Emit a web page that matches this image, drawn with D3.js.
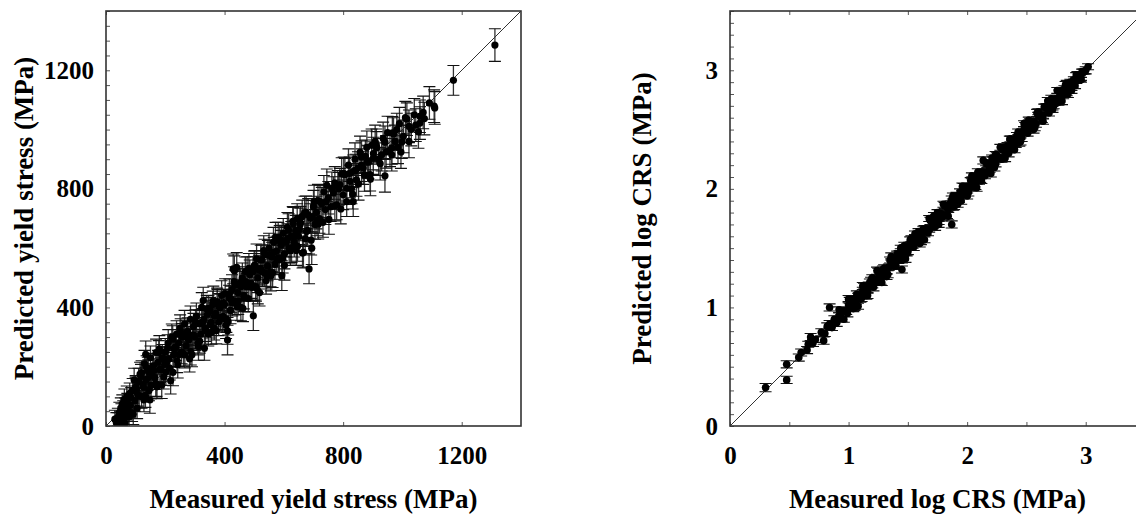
<!DOCTYPE html>
<html>
<head>
<meta charset="utf-8">
<script src="https://cdn.jsdelivr.net/npm/d3@7"></script>
<style>
body { margin: 0; background: #fff; }
</style>
</head>
<body>
<div id="chart"></div>
<script>
const yieldMeasured = [
  30,35,40,42,45,48,50,52,55,55,58,60,62,65,65,68,70,72,75,78,80,82,85,88,90,92,95,98,100,103,105,107,110,
  115,120,125,130,134,137,140,141,145,150,155,160,165,169,170,175,180,185,190,195,200,205,210,215,222,225,228,232,238,240,245,250,255,260,265,270,275,280,285,290,295,300,
  305,310,315,320,323,328,330,335,340,345,351,355,360,365,370,375,380,385,390,395,400,405,410,410,415,420,425,429,433,435,441,445,450,455,460,465,470,475,480,485,490,497,500,505,508,512,518,522,528,535,540,545,550,555,560,565,570,575,581,585,590,593,598,
  602,608,612,618,625,630,635,640,645,650,655,663,666,670,675,680,685,690,694,700,705,710,715,720,728,735,740,745,750,758,767,772,778,785,789,795,800,806,812,818,823,828,834,834,840,845,850,857,862,868,875,880,885,891,896,
  902,902,908,913,920,930,935,941,941,950,958,964,964,966,975,981,990,995,998,1003,1010,1022,1022,1030,1040,1054,1059,1059,1070,1074,1091,1107,1109,1172,1312,
  120,128,135,148,158,168,178,188,198,208,218,230,242,252,262,272,282,292,302,312,322,332,342,352,362,372,382,392,402,412,
  422,432,442,452,462,472,482,492,502,512,522,532,542,552,562,572,582,592,602,612,622,632,642,652,662,672,682,692,702,712,
  722,732,742,752,762,772,782,792,802,812,822,832,842,852,862,872,882,892,912,925,945,970,985,1015,1045,
  100,112,118,126,133,143,152,162,172,182,192,202,212,226,236,246,256,266,276,286,
  296,306,316,326,336,346,356,366,376,386,396,406,416,426,436,446,456,466,476,486,
  496,506,516,526,536,546,556,566,576,586,596,606,616,626,636,646,656,676,696,716
];
const yieldPredicted = [
  23,10,30,5,45,20,60,35,0,75,50,25,90,65,10,40,100,80,55,30,110,70,95,45,120,40,155,85,130,124,60,107,150,
  175,100,140,210,242,197,160,192,120,230,170,200,163,248,140,215,260,190,230,165,250,215,280,195,299,293,240,265,310,220,280,330,250,300,345,270,320,290,360,240,335,300,
  370,280,345,310,400,423,360,330,395,310,389,350,410,330,380,420,350,400,440,370,410,340,321,290,430,390,460,530,524,420,535,450,480,400,500,440,520,470,430,510,480,372,540,470,564,500,450,560,520,580,490,540,600,520,570,620,545,590,637,560,610,507,650,
  580,620,670,600,640,690,620,660,700,640,680,583,586,720,721,660,530,700,600,740,680,720,760,700,750,790,730,812,770,740,786,820,746,800,814,850,780,848,757,880,825,800,859,757,900,830,870,923,880,870,910,940,890,848,947,
  904,919,960,938,900,915,970,957,844,990,930,938,915,989,960,1000,1020,924,958,977,1040,1011,960,1000,1050,992,1045,1022,1058,1037,1090,1079,1073,1166,1285,
  180,88,155,88,203,143,248,138,208,263,153,260,207,317,242,312,227,307,352,267,347,262,377,342,422,322,402,362,447,352,
  427,487,402,482,397,487,532,467,542,457,532,592,507,577,517,637,567,627,542,632,592,682,592,662,707,632,712,627,757,692,
  757,687,757,697,802,742,807,732,852,802,852,782,862,817,907,847,892,832,947,885,925,985,940,1035,1015,
  130,102,168,131,103,183,137,187,132,192,227,182,227,181,266,241,301,241,296,251,
  306,346,286,351,321,396,316,371,411,366,416,361,446,416,476,421,471,431,521,481,
  521,466,526,561,516,576,506,586,561,626,566,621,661,601,641,606,686,656,706,681
];
const yieldError = [
  30,35,30,40,35,30,35,40,35,30,35,40,35,30,40,35,35,30,40,35,35,40,35,30,40,35,40,35,40,35,35,40,45,
  40,40,40,45,45,40,40,40,35,40,40,45,40,45,40,40,45,40,45,40,45,40,45,40,45,45,40,45,45,40,45,45,40,45,45,40,45,45,45,40,45,45,
  45,40,45,40,50,45,45,45,45,40,45,45,45,40,45,45,45,45,50,45,45,45,45,50,45,45,50,50,50,45,50,45,50,45,50,45,50,45,45,50,50,50,50,45,50,50,45,50,50,50,45,50,50,50,50,50,50,50,50,50,50,50,50,
  50,50,50,50,50,50,50,50,50,50,55,50,50,55,55,50,50,50,55,55,50,55,55,50,55,55,50,55,55,50,55,55,50,55,55,55,50,55,50,55,55,50,55,50,55,55,55,55,55,55,55,55,55,55,55,
  55,55,55,55,55,55,55,55,55,55,55,55,55,55,55,55,55,55,55,55,55,55,55,55,55,55,55,55,55,55,55,55,55,50,55,
  40,40,40,45,40,45,40,45,40,45,45,40,45,45,40,45,45,45,40,45,45,40,45,45,50,45,45,45,50,45,
  45,50,45,50,45,50,50,45,50,45,50,50,45,50,50,50,50,50,50,50,50,55,50,50,55,50,55,50,55,50,
  55,50,55,50,55,50,55,50,55,55,55,50,55,55,55,55,55,55,55,55,55,55,55,55,55,
  35,40,40,35,40,40,45,40,40,45,40,45,40,45,45,40,45,45,40,45,
  45,45,40,45,45,45,40,45,50,45,45,45,50,45,50,45,50,45,50,50,
  50,45,50,50,45,50,50,50,50,50,50,50,55,50,50,50,55,50,55,50
];
const yieldLabels = [0, 400, 800, 1200];

const crsMeasured = [
  0.30,0.478,0.478,0.58,0.60,0.65,0.66,0.68,0.70,0.72,
  0.77,0.79,0.80,0.82,0.84,0.84,0.86,0.88,0.90,0.92,
  0.94,0.96,0.98,1.00,1.45,1.87,2.136,1.02,1.04,1.06,
  1.08,1.10,1.12,1.14,1.16,1.18,1.20,1.22,1.24,1.26,
  1.28,1.30,1.32,1.34,1.36,1.38,1.40,1.42,1.44,1.46,
  1.48,1.50,1.52,1.54,1.56,1.58,1.60,1.62,1.64,1.66,
  1.68,1.70,1.72,1.74,1.76,1.78,1.80,1.82,1.84,1.86,
  1.88,1.90,1.92,1.94,1.96,1.98,2.00,2.02,2.04,2.06,
  2.08,2.10,2.12,2.14,2.16,2.18,2.20,2.22,2.24,2.26,
  2.28,2.30,2.32,2.34,2.36,2.38,2.40,2.42,2.44,2.46,
  2.48,2.50,2.52,2.54,2.56,2.58,2.60,2.62,2.64,2.66,
  2.68,2.70,2.72,2.74,2.76,2.78,2.80,2.82,2.84,2.86,
  2.88,2.90,2.92,2.94,2.96,2.98,3.00,3.02,
  0.99,1.01,1.03,1.05,1.07,1.09,1.11,1.13,1.15,1.17,
  1.19,1.21,1.23,1.25,1.27,1.29,1.31,1.33,1.35,1.37,
  1.39,1.41,1.43,1.45,1.47,1.49,1.51,1.53,1.55,1.57,
  1.59,1.61,1.63,1.65,1.67,1.69,1.71,1.73,1.75,1.77,
  1.79,1.81,1.83,1.85,1.87,1.89,1.91,1.93,1.95,1.97,
  1.99,2.01,2.03,2.05,2.07,2.09,2.11,2.13,2.15,2.17,
  2.19,2.21,2.23,2.25,2.27,2.29,2.31,2.33,2.35,2.37,
  2.39,2.41,2.43,2.45,2.47,2.49,2.51,2.53,2.55,2.57,
  2.59,2.61,2.63,2.65,2.67,2.69,2.71,2.73,2.75,2.77,
  2.79,2.81,2.83,2.85,2.87,2.89,2.91,2.93,2.95,2.97,
  2.99,
  0.92,0.96,1.00,1.04,1.08,1.12,1.16,1.20,1.24,1.28,
  1.32,1.36,1.40,1.44,1.48,1.52,1.56,1.60,1.64,1.68,
  1.72,1.76,1.80,1.84,1.88,1.92,1.96,2.00,2.04,2.08,
  2.12,2.16,2.20,2.24,2.28,2.32,2.36,2.40,2.44,2.48,
  2.52,2.56,2.60,2.64,2.68,2.72,2.76,2.80,2.84,2.88,
  2.92,2.96
];
const crsPredicted = [
  0.324,0.52,0.389,0.577,0.62,0.64,0.69,0.75,0.70,0.73,
  0.79,0.72,0.78,0.84,1.00,0.86,0.83,0.90,0.87,0.93,
  0.91,0.97,0.97,1.02,1.32,1.70,2.24,1.00,1.07,1.05,
  1.09,1.07,1.14,1.14,1.14,1.21,1.19,1.23,1.21,1.28,
  1.27,1.33,1.30,1.34,1.38,1.35,1.41,1.40,1.47,1.45,
  1.50,1.47,1.53,1.53,1.59,1.56,1.61,1.59,1.66,1.66,
  1.66,1.73,1.71,1.76,1.73,1.79,1.78,1.85,1.83,1.88,
  1.85,1.91,1.90,1.97,1.96,1.95,2.02,2.01,2.07,2.04,
  2.09,2.07,2.14,2.14,2.14,2.21,2.19,2.24,2.21,2.27,
  2.26,2.33,2.31,2.36,2.33,2.39,2.38,2.45,2.44,2.43,
  2.50,2.49,2.55,2.52,2.57,2.55,2.62,2.62,2.62,2.69,
  2.67,2.72,2.69,2.75,2.74,2.81,2.79,2.84,2.81,2.87,
  2.86,2.92,2.91,2.95,2.94,2.99,3.00,3.03,
  0.95,1.06,1.02,1.00,1.11,1.10,1.08,1.18,1.10,1.19,
  1.23,1.17,1.23,1.30,1.22,1.32,1.29,1.28,1.40,1.36,
  1.35,1.45,1.45,1.40,1.52,1.46,1.52,1.58,1.51,1.55,
  1.64,1.56,1.66,1.64,1.63,1.73,1.71,1.68,1.80,1.79,
  1.76,1.86,1.78,1.86,1.91,1.85,1.94,1.91,1.90,2.02,
  1.99,1.97,2.07,2.07,2.02,2.14,2.08,2.14,2.11,2.21,
  2.17,2.26,2.18,2.28,2.26,2.25,2.35,2.33,2.30,2.42,
  2.41,2.38,2.48,2.40,2.48,2.53,2.47,2.56,2.53,2.52,
  2.64,2.61,2.59,2.69,2.69,2.64,2.76,2.70,2.76,2.73,
  2.83,2.79,2.88,2.80,2.90,2.88,2.87,2.96,2.93,2.99,
  2.99,
  0.98,0.90,1.07,0.99,1.01,1.18,1.10,1.25,1.31,1.21,
  1.26,1.43,1.35,1.50,1.41,1.57,1.62,1.54,1.57,1.75,
  1.77,1.70,1.87,1.77,1.94,1.87,2.02,1.94,2.11,2.01,
  2.07,2.22,2.13,2.29,2.35,2.26,2.42,2.33,2.39,2.55,
  2.58,2.50,2.65,2.57,2.74,2.67,2.83,2.74,2.89,2.83,
  2.96,2.92
];
const crsError = [
  0.035,0.03,0.03,0.03,0.03,0.03,0.025,0.03,0.03,0.025,
  0.03,0.03,0.025,0.03,0.03,0.03,0.025,0.03,0.03,0.025,
  0.03,0.025,0.03,0.03,0.03,0.03,0.03,0.025,0.03,0.025,
  0.03,0.025,0.03,0.025,0.02,0.03,0.025,0.03,0.02,0.03,
  0.025,0.03,0.02,0.025,0.03,0.02,0.025,0.03,0.025,0.02,
  0.03,0.025,0.02,0.03,0.025,0.03,0.02,0.025,0.03,0.02,
  0.025,0.03,0.02,0.025,0.03,0.025,0.02,0.03,0.025,0.02,
  0.03,0.025,0.02,0.03,0.025,0.02,0.03,0.025,0.03,0.02,
  0.025,0.03,0.02,0.025,0.03,0.02,0.025,0.03,0.025,0.02,
  0.03,0.025,0.02,0.03,0.025,0.02,0.03,0.025,0.02,0.03,
  0.025,0.02,0.03,0.025,0.02,0.03,0.025,0.02,0.03,0.025,
  0.02,0.03,0.025,0.02,0.03,0.025,0.02,0.03,0.025,0.02,
  0.03,0.025,0.02,0.03,0.025,0.02,0.03,0.025,
  0.03,0.025,0.03,0.025,0.03,0.025,0.03,0.025,0.03,0.025,
  0.025,0.03,0.025,0.03,0.025,0.03,0.025,0.03,0.025,0.03,
  0.03,0.025,0.03,0.025,0.03,0.025,0.03,0.025,0.03,0.025,
  0.025,0.03,0.025,0.03,0.025,0.03,0.025,0.03,0.025,0.03,
  0.03,0.025,0.03,0.025,0.03,0.025,0.03,0.025,0.03,0.025,
  0.025,0.03,0.025,0.03,0.025,0.03,0.025,0.03,0.025,0.03,
  0.03,0.025,0.03,0.025,0.03,0.025,0.03,0.025,0.03,0.025,
  0.025,0.03,0.025,0.03,0.025,0.03,0.025,0.03,0.025,0.03,
  0.03,0.025,0.03,0.025,0.03,0.025,0.03,0.025,0.03,0.025,
  0.025,0.03,0.025,0.03,0.025,0.03,0.025,0.03,0.025,0.02,
  0.02,
  0.025,0.025,0.03,0.025,0.025,0.03,0.025,0.025,0.03,0.025,
  0.025,0.03,0.025,0.025,0.03,0.025,0.025,0.03,0.025,0.025,
  0.03,0.025,0.025,0.03,0.025,0.025,0.03,0.025,0.025,0.03,
  0.025,0.025,0.03,0.025,0.025,0.03,0.025,0.025,0.03,0.025,
  0.025,0.03,0.025,0.025,0.03,0.025,0.025,0.03,0.025,0.025,
  0.02,0.02
];
const crsLabels = [0, 1, 2, 3];

const width = 1136, height = 518;
const font = "'Liberation Serif', 'Times New Roman', serif";

const svg = d3.select("#chart").append("svg")
  .attr("width", width)
  .attr("height", height);

const drawPanel = (p) => {
  const x = d3.scaleLinear().domain([0, p.max]).range([p.left, p.left + p.size]);
  const y = d3.scaleLinear().domain([0, p.max]).range([p.top + p.size, p.top]);
  const g = svg.append("g");

  g.append("clipPath").attr("id", p.id)
    .append("rect")
    .attr("x", p.left).attr("y", p.top)
    .attr("width", p.size).attr("height", p.size);

  const ticks = (axis, tx, ty, values) => {
    const a = g.append("g")
      .attr("transform", "translate(" + tx + "," + ty + ")")
      .call(axis.tickValues(values).tickSize(-4).tickFormat(""));
    a.select(".domain").remove();
    a.selectAll("line").attr("stroke", "#555").attr("stroke-width", 1);
  };
  ticks(d3.axisLeft(y), p.left, 0, p.yMinor);
  ticks(d3.axisBottom(x), 0, p.top + p.size, p.xMinor);
  ticks(d3.axisTop(x), 0, p.top, p.xMinor);

  const labels = (axis, tx, ty) => {
    const a = g.append("g")
      .attr("transform", "translate(" + tx + "," + ty + ")")
      .call(axis.tickValues(p.labels).tickSize(0).tickFormat(d3.format("d")))
      .attr("font-family", font)
      .attr("font-size", 25)
      .attr("font-weight", "bold");
    a.select(".domain").remove();
    a.selectAll("line").remove();
    a.selectAll("text").attr("fill", "#000");
  };
  labels(d3.axisLeft(y).tickPadding(12), p.left, 0);
  labels(d3.axisBottom(x).tickPadding(20), 0, p.top + p.size);

  g.append("line")
    .attr("x1", x(0)).attr("y1", y(0))
    .attr("x2", x(p.max)).attr("y2", y(p.max))
    .attr("stroke", "#333")
    .attr("stroke-width", 1);

  const pts = p.xs.map((v, i) => ({ x: v, y: p.ys[i], e: p.es[i] }));
  const data = g.append("g").attr("clip-path", "url(#" + p.id + ")");

  data.selectAll("line.stem").data(pts).enter().append("line")
    .attr("class", "stem")
    .attr("x1", d => x(d.x)).attr("x2", d => x(d.x))
    .attr("y1", d => y(d.y - d.e)).attr("y2", d => y(d.y + d.e))
    .attr("stroke", "#333")
    .attr("stroke-width", 1.3);
  data.selectAll("path.cap").data(pts).enter().append("path")
    .attr("class", "cap")
    .attr("d", d => {
      const cx = x(d.x), lo = y(d.y - d.e), hi = y(d.y + d.e);
      return "M" + (cx - p.cap) + "," + lo + "H" + (cx + p.cap) +
             "M" + (cx - p.cap) + "," + hi + "H" + (cx + p.cap);
    })
    .attr("stroke", "#111")
    .attr("stroke-width", 1.1)
    .attr("fill", "none");
  data.selectAll("circle").data(pts).enter().append("circle")
    .attr("cx", d => x(d.x))
    .attr("cy", d => y(d.y))
    .attr("r", p.r)
    .attr("fill", "#000");

  g.append("rect")
    .attr("x", p.left).attr("y", p.top)
    .attr("width", p.size).attr("height", p.size)
    .attr("fill", "none")
    .attr("stroke", "#333")
    .attr("stroke-width", 1.6);

  g.append("text")
    .attr("x", p.left + p.size / 2)
    .attr("y", 508)
    .attr("text-anchor", "middle")
    .attr("font-family", font)
    .attr("font-size", 27)
    .attr("font-weight", "bold")
    .text(p.xTitle);

  g.append("text")
    .attr("transform", "translate(" + p.yTitleX + "," + (p.top + p.size / 2) + ") rotate(-90)")
    .attr("text-anchor", "middle")
    .attr("font-family", font)
    .attr("font-size", 27)
    .attr("font-weight", "bold")
    .text(p.yTitle);
};

drawPanel({
  id: "clipYield", left: 106, top: 11, size: 415, max: 1400,
  xs: yieldMeasured, ys: yieldPredicted, es: yieldError,
  labels: yieldLabels, yMinor: d3.range(0, 1401, 50), xMinor: yieldLabels,
  cap: 6, r: 3.6, yTitleX: 33,
  xTitle: "Measured yield stress (MPa)", yTitle: "Predicted yield stress (MPa)"
});

drawPanel({
  id: "clipCrs", left: 730, top: 11, size: 415, max: 3.5,
  xs: crsMeasured, ys: crsPredicted, es: crsError,
  labels: crsLabels, yMinor: d3.range(0, 3.51, 0.1), xMinor: d3.range(0, 3.51, 0.5),
  cap: 6, r: 3.8, yTitleX: 651,
  xTitle: "Measured log CRS (MPa)", yTitle: "Predicted log CRS (MPa)"
});
</script>
</body>
</html>
